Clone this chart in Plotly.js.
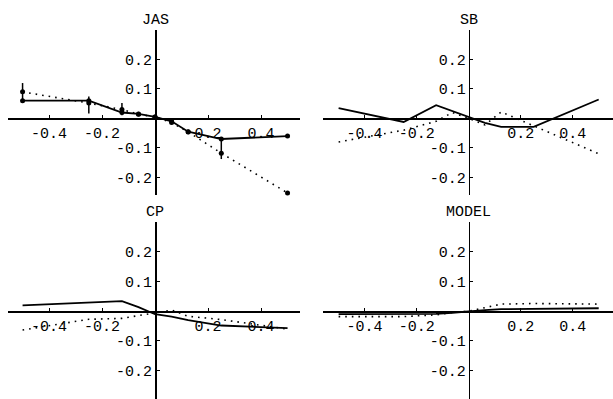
<!DOCTYPE html>
<html>
<head>
<meta charset="utf-8">
<script src="https://cdn.plot.ly/plotly-3.0.1.min.js"></script>
<style>html,body{margin:0;padding:0;background:#fff;}#chart{width:613px;height:399px;}</style>
</head>
<body>
<div id="chart"></div>
<script>
// ---- data ----
const xVals = [-0.5, -0.25, -0.125, -0.0625, 0, 0.0625, 0.125, 0.25, 0.5];
const panelTitles = ["JAS", "SB", "CP", "MODEL"];
const jasSolid  = [0.06, 0.06, 0.02, 0.015, 0.005, -0.01, -0.045, -0.07, -0.06];
const jasDotted = [0.09, 0.052, 0.03, 0.014, 0.005, -0.014, -0.046, -0.118, -0.253];
const jasErrUp   = [0.03, 0.022, 0.022, 0.006, 0.004, 0.006, 0.006, 0.049, 0.006];
const jasErrDown = [0.03, 0.035, 0.019, 0.006, 0.004, 0.006, 0.006, 0.02, 0.006];
const sbSolid  = [0.035, -0.012, 0.045, 0.025, 0.003, -0.015, -0.029, -0.029, 0.064];
const sbDotted = [-0.08, -0.04, -0.01, 0.02, 0, -0.022, 0.022, -0.025, -0.12];
const cpSolid  = [0.02, 0.03, 0.034, 0.014, -0.01, -0.018, -0.03, -0.048, -0.057];
const cpDotted = [-0.063, -0.027, -0.024, -0.015, -0.004, 0.004, -0.017, -0.028, -0.06];
const modelSolid  = [-0.01, -0.01, -0.009, -0.005, 0, 0.004, 0.007, 0.008, 0.01];
const modelDotted = [-0.018, -0.018, -0.012, -0.004, 0, 0.012, 0.024, 0.026, 0.024];
const xTickVals = [-0.4, -0.2, 0.2, 0.4];
const xTickText = ["-0.4", "-0.2", "0.2", "0.4"];
const yTickVals = [-0.2, -0.1, 0.1, 0.2];
const yTickText = ["-0.2", "-0.1", "0.1", "0.2"];

// ---- layout geometry ----
const W = 613, H = 399;
const FONT = "'Courier New', 'Liberation Mono', monospace";
const panels = [
  {xd: [8 / W, 300 / W], xr: [-0.555, 0.547], yd: [1 - 195 / H, 1 - 30 / H], yr: [-0.26, 0.3]},
  {xd: [323 / W, 1], xr: [-0.56, 0.555], yd: [1 - 195 / H, 1 - 30 / H], yr: [-0.26, 0.3]},
  {xd: [8 / W, 300 / W], xr: [-0.555, 0.547], yd: [0, 1 - 222 / H], yr: [-0.295, 0.3]},
  {xd: [323 / W, 1], xr: [-0.56, 0.555], yd: [0, 1 - 222 / H], yr: [-0.295, 0.3]}
];
const seriesSolid = [jasSolid, sbSolid, cpSolid, modelSolid];
const seriesDotted = [jasDotted, sbDotted, cpDotted, modelDotted];

function zeroPos(r, d) { return d[0] + (0 - r[0]) / (r[1] - r[0]) * (d[1] - d[0]); }

const data = [];
const layout = {
  width: W, height: H,
  margin: {l: 0, r: 0, t: 0, b: 0},
  paper_bgcolor: "#fff", plot_bgcolor: "rgba(0,0,0,0)",
  showlegend: false,
  annotations: []
};

panels.forEach((p, i) => {
  const n = i + 1;
  const xa = "x" + (n === 1 ? "" : n);
  const ya = "y" + (n === 1 ? "" : n);
  const isJas = i === 0;
  data.push({
    x: xVals, y: seriesDotted[i], xaxis: xa, yaxis: ya,
    type: "scatter", mode: isJas ? "lines+markers" : "lines",
    line: {color: "black", width: 1.6, dash: "1.6px,5px"},
    marker: {color: "black", size: 5},
    error_y: isJas ? {type: "data", array: jasErrUp, arrayminus: jasErrDown, width: 0, thickness: 1.5, color: "black"} : undefined,
    cliponaxis: false
  });
  data.push({
    x: xVals, y: seriesSolid[i], xaxis: xa, yaxis: ya,
    type: "scatter", mode: isJas ? "lines+markers" : "lines",
    line: {color: "black", width: 1.8},
    marker: {color: "black", size: 5},
    cliponaxis: false
  });
  const axKeyX = "xaxis" + (n === 1 ? "" : n);
  const axKeyY = "yaxis" + (n === 1 ? "" : n);
  layout[axKeyX] = {
    domain: p.xd, range: p.xr, anchor: "free", position: zeroPos(p.yr, p.yd),
    showline: true, linecolor: "black", linewidth: 1.5,
    ticks: "inside", ticklen: 3, tickwidth: 1, tickcolor: "black",
    tickvals: xTickVals, ticktext: xTickText,
    tickfont: {family: FONT, size: 15, color: "black"},
    showgrid: false, zeroline: false, fixedrange: true
  };
  layout[axKeyY] = {
    domain: p.yd, range: p.yr, anchor: "free", position: zeroPos(p.xr, p.xd),
    side: "left",
    showline: true, linecolor: "black", linewidth: 1.5,
    ticks: "inside", ticklen: 3, tickwidth: 1, tickcolor: "black",
    tickvals: yTickVals, ticktext: yTickText,
    tickfont: {family: FONT, size: 15, color: "black"},
    showgrid: false, zeroline: false, fixedrange: true
  };
  layout.annotations.push({
    text: panelTitles[i], xref: xa, x: 0, yref: "paper", y: p.yd[1],
    xanchor: "center", yanchor: "bottom", showarrow: false, yshift: -1,
    font: {family: FONT, size: 15, color: "black"}
  });
});

Plotly.newPlot("chart", data, layout, {staticPlot: true, displayModeBar: false});
</script>
</body>
</html>
